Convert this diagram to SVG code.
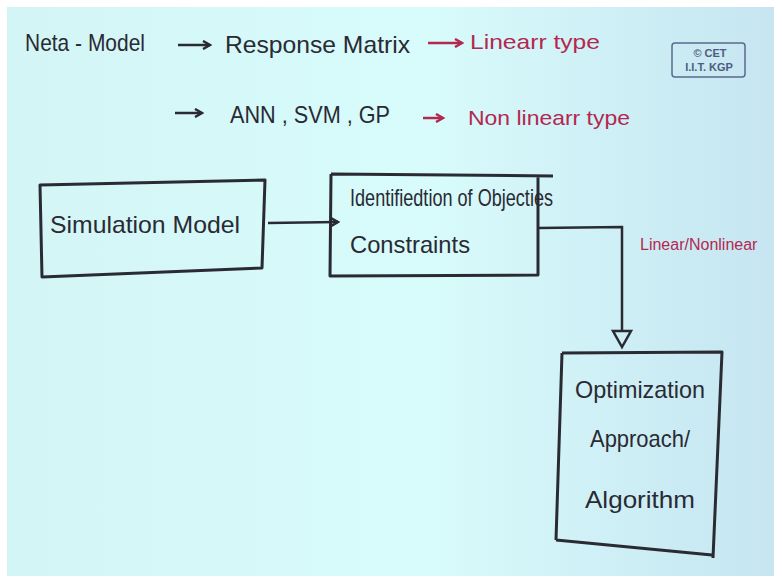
<svg xmlns="http://www.w3.org/2000/svg" width="774" height="579" viewBox="0 0 774 579">
<defs>
<linearGradient id="bg" x1="0" y1="0" x2="1" y2="0">
<stop offset="0" stop-color="#d3f5f6"/>
<stop offset="0.55" stop-color="#d8fbfb"/>
<stop offset="1" stop-color="#c6e5f1"/>
</linearGradient>
<marker id="ah" markerWidth="10" markerHeight="10" refX="8" refY="5" orient="auto" markerUnits="userSpaceOnUse">
<path d="M1,1 L8,5 L1,9" fill="none" stroke="#2a2a33" stroke-width="2.5"/>
</marker>
<marker id="ahr" markerWidth="10" markerHeight="10" refX="8" refY="5" orient="auto" markerUnits="userSpaceOnUse">
<path d="M1,1 L8,5 L1,9" fill="none" stroke="#b3284f" stroke-width="2.5"/>
</marker>
</defs>
<style>
.ink{font-family:"Liberation Sans","DejaVu Sans",sans-serif;fill:#2a2a33;font-size:24px}
.red{font-family:"Liberation Sans","DejaVu Sans",sans-serif;fill:#b3284f;font-size:21px}
.redsm{font-family:"Liberation Sans","DejaVu Sans",sans-serif;fill:#b3284f;font-size:16px}
.box{fill:none;stroke:#2a2a33;stroke-width:3;stroke-linejoin:round}
.line{fill:none;stroke:#2a2a33;stroke-width:2.5}
.rline{fill:none;stroke:#b3284f;stroke-width:2.5}
.logo{font-family:"Liberation Sans","DejaVu Sans",sans-serif;fill:#4d5c80;font-size:11px;font-weight:bold}
</style>
<rect x="0" y="0" width="774" height="579" fill="#ffffff"/>
<rect x="7" y="7" width="767" height="569" fill="url(#bg)"/>

<g id="header">
<text class="ink" x="25" y="51" textLength="120" lengthAdjust="spacingAndGlyphs">Neta - Model</text>
<text class="ink" x="225" y="53" textLength="185" lengthAdjust="spacingAndGlyphs">Response Matrix</text>
<text class="red" x="470" y="49" textLength="130" lengthAdjust="spacingAndGlyphs">Linearr type</text>
<text class="ink" x="230" y="123" textLength="160" lengthAdjust="spacingAndGlyphs">ANN , SVM , GP</text>
<text class="red" x="468" y="125" textLength="162" lengthAdjust="spacingAndGlyphs">Non linearr type</text>
</g>

<g id="logo">
<rect x="672" y="43" width="73" height="34" rx="3" fill="none" stroke="#5a6a8c" stroke-width="1.5"/>
<text class="logo" x="710" y="57" text-anchor="middle">© CET</text>
<text class="logo" x="709" y="71" text-anchor="middle">I.I.T. KGP</text>
</g>

<g id="simulation-model">
<path class="box" d="M40,185 L265,180 L262,268 L42,277 Z"/>
<text class="ink" x="50" y="233" textLength="190" lengthAdjust="spacingAndGlyphs">Simulation Model</text>
</g>

<g id="identification">
<path class="box" d="M331,174 L553,176 M538,176 L538,275 L330,276 L331,174"/>
<text class="ink" x="350" y="206" textLength="203" lengthAdjust="spacingAndGlyphs">Identifiedtion of Objecties</text>
<text class="ink" x="350" y="253" textLength="120" lengthAdjust="spacingAndGlyphs">Constraints</text>
</g>

<g id="optimization">
<path class="box" d="M562,353 L722,352 L713,558 M556,540 L712,555 M562,353 L556,540"/>
<text class="ink" x="575" y="398" textLength="130" lengthAdjust="spacingAndGlyphs">Optimization</text>
<text class="ink" x="590" y="447" textLength="100" lengthAdjust="spacingAndGlyphs">Approach/</text>
<text class="ink" x="585" y="508" textLength="110" lengthAdjust="spacingAndGlyphs">Algorithm</text>
</g>

<g id="linear-label">
<text class="redsm" x="640" y="250">Linear/Nonlinear</text>
</g>

<g id="connectors">
<line class="line" x1="178" y1="45" x2="210" y2="45" marker-end="url(#ah)"/>
<line class="rline" x1="428" y1="43" x2="462" y2="43" marker-end="url(#ahr)"/>
<line class="line" x1="175" y1="113" x2="202" y2="113" marker-end="url(#ah)"/>
<line class="rline" x1="423" y1="118" x2="443" y2="118" marker-end="url(#ahr)"/>
<line class="line" x1="268" y1="223" x2="338" y2="222" marker-end="url(#ah)"/>
<path class="line" d="M538,228 L622,227 L622,331"/>
<path class="line" d="M613,331 L631,331 L622,347 Z"/>
</g>
</svg>
